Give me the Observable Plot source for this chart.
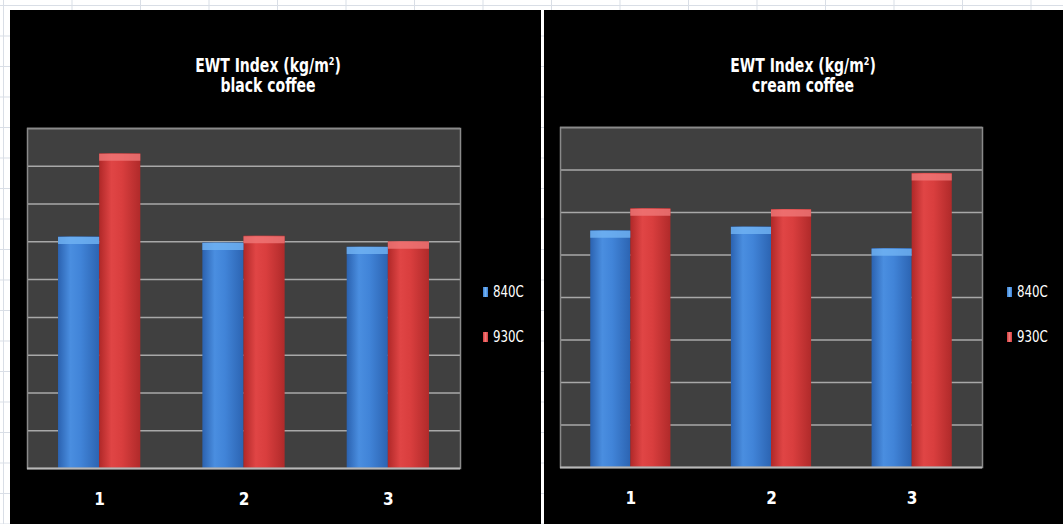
<!DOCTYPE html>
<html>
<head>
<meta charset="utf-8">
<script src="https://cdn.jsdelivr.net/npm/d3@7"></script>
<script src="https://cdn.jsdelivr.net/npm/@observablehq/plot@0.6"></script>
<style>
  html, body { margin: 0; padding: 0; }
  body {
    width: 1063px; height: 524px; position: relative; overflow: hidden;
    background-color: #ffffff;
    background-image:
      linear-gradient(to right, #d9dee6 1px, transparent 1px),
      linear-gradient(to bottom, #d9dee6 1px, transparent 1px);
    background-size: 68.5px 30.5px, 68.5px 30.5px;
    background-position: 3px 0, 0 5px;
    font-family: "DejaVu Sans Condensed", "Liberation Sans", sans-serif;
  }
  .panel { position: absolute; background: #000; overflow: hidden; }
  .panel svg { position: absolute; left: 0; top: 0; }
  .title {
    position: absolute; width: 320px; text-align: center; color: #fff;
    font-weight: bold; font-size: 19px; line-height: 20px; white-space: nowrap;
    transform: scaleX(0.82); transform-origin: 50% 0;
  }
  .legend { position: absolute; color: #fff; font-size: 16px; }
  .legend .item { position: absolute; white-space: nowrap; line-height: 16px; }
  .legend .sw { position: absolute; left: 0; width: 5px; height: 10px; top: 3px; }
  .legend .lab { position: absolute; left: 10px; top: 0; transform: scaleX(0.82); transform-origin: 0 0; }
</style>
</head>
<body>
<script>
// ---- data ----
const groups = [1, 2, 3];
const series = ["840C", "930C"];
const blackCoffee840 = [6.13, 5.97, 5.86];
const blackCoffee930 = [8.33, 6.15, 6.00];
const creamCoffee840 = [5.57, 5.66, 5.15];
const creamCoffee930 = [6.09, 6.07, 6.92];
const titleLine1 = "EWT Index (kg/m";
const subtitles = ["black coffee", "cream coffee"];

const seriesSolid = ["#3c7ed4", "#d63c3c"];
const seriesBevel = ["#72b4f4", "#f07878"];

function makePanel(cfg) {
  const panel = document.createElement("div");
  panel.className = "panel";
  Object.assign(panel.style, {left: cfg.left + "px", top: cfg.top + "px", width: cfg.width + "px", height: cfg.height + "px"});
  document.body.appendChild(panel);

  const rows = groups.flatMap((g, i) => [
    {g, s: series[0], v: cfg.a[i]},
    {g, s: series[1], v: cfg.b[i]}
  ]);
  const W = 0.285;
  const x1 = d => d.s === series[0] ? d.g - W : d.g;
  const x2 = d => d.s === series[0] ? d.g : d.g + W;
  const id = cfg.id;

  const svg = Plot.plot({
    width: cfg.width,
    height: cfg.height,
    marginLeft: cfg.ml, marginRight: cfg.mr, marginTop: cfg.mt, marginBottom: cfg.mb,
    style: {background: "transparent", color: "#fff", fontFamily: "'DejaVu Sans Condensed', sans-serif", fontSize: "15px", overflow: "visible"},
    x: {domain: [0.5, 3.5], axis: null},
    y: {domain: [0, cfg.ymax], axis: null},
    color: {domain: series, range: [`url(#${id}b)`, `url(#${id}r)`]},
    marks: [
      Plot.frame({fill: "#404040"}),
      Plot.gridY(d3.range(1, cfg.ymax + 1), {stroke: "#a8a8a8", strokeOpacity: 1, strokeWidth: 1.5}),
      Plot.rectY(rows, {x1, x2, y: "v", fill: "s"}),
      Plot.ruleY(rows, {x1, x2, y: "v", dy: 3.5, strokeWidth: 7, stroke: d => seriesBevel[series.indexOf(d.s)], strokeOpacity: 0.8}),
      Plot.frame({stroke: "#8a8a8a", strokeWidth: 1.5}),
      Plot.ruleY([0], {stroke: "#b8b8b8", strokeWidth: 2}),
      Plot.axisX({ticks: groups, tickFormat: d => String(d), tickSize: 0, tickPadding: 24, fill: "#fff", fontWeight: "bold", fontSize: 17, label: null})
    ]
  });

  const defs = d3.select(svg).insert("defs", ":first-child");
  const gb = defs.append("linearGradient").attr("id", id + "b").attr("x1", 0).attr("x2", 1).attr("y1", 0).attr("y2", 0);
  [[0, "#2b62b0"], [0.3, "#4a8ee0"], [0.55, "#4184d8"], [1, "#2c64b2"]].forEach(([o, c]) => gb.append("stop").attr("offset", o).attr("stop-color", c));
  const gr = defs.append("linearGradient").attr("id", id + "r").attr("x1", 0).attr("x2", 1).attr("y1", 0).attr("y2", 0);
  [[0, "#b02828"], [0.3, "#e04545"], [0.55, "#d93e3e"], [1, "#b02a2a"]].forEach(([o, c]) => gr.append("stop").attr("offset", o).attr("stop-color", c));
  panel.appendChild(svg);

  const t = document.createElement("div");
  t.className = "title";
  t.style.left = (cfg.titleX - 160) + "px";
  t.style.top = cfg.titleY + "px";
  const l1 = document.createElement("div");
  l1.append(titleLine1);
  const sup = document.createElement("sup");
  sup.textContent = "2";
  sup.style.fontSize = "11px";
  sup.style.verticalAlign = "7px";
  sup.style.lineHeight = "0";
  l1.append(sup, ")");
  const l2 = document.createElement("div");
  l2.textContent = cfg.sub;
  t.append(l1, l2);
  panel.appendChild(t);

  const lg = document.createElement("div");
  lg.className = "legend";
  lg.style.left = cfg.legX + "px";
  lg.style.top = cfg.legY + "px";
  series.forEach((s, i) => {
    const it = document.createElement("div");
    it.className = "item";
    it.style.top = (i * 45) + "px";
    const sw = document.createElement("span");
    sw.className = "sw";
    sw.style.background = `linear-gradient(to right, ${seriesSolid[i]}, ${seriesBevel[i]}, ${seriesSolid[i]})`;
    const lab = document.createElement("span");
    lab.className = "lab";
    lab.textContent = s;
    it.append(sw, lab);
    lg.appendChild(it);
  });
  panel.appendChild(lg);
}

makePanel({id: "p1", left: 10, top: 10, width: 531, height: 514, ml: 17, mr: 81, mt: 118, mb: 56,
  a: blackCoffee840, b: blackCoffee930, ymax: 9, sub: subtitles[0], titleX: 258, titleY: 45, legX: 473, legY: 274});
makePanel({id: "p2", left: 544, top: 10, width: 519, height: 514, ml: 16, mr: 81, mt: 117, mb: 57,
  a: creamCoffee840, b: creamCoffee930, ymax: 8, sub: subtitles[1], titleX: 259, titleY: 45, legX: 463, legY: 274});
</script>
</body>
</html>
